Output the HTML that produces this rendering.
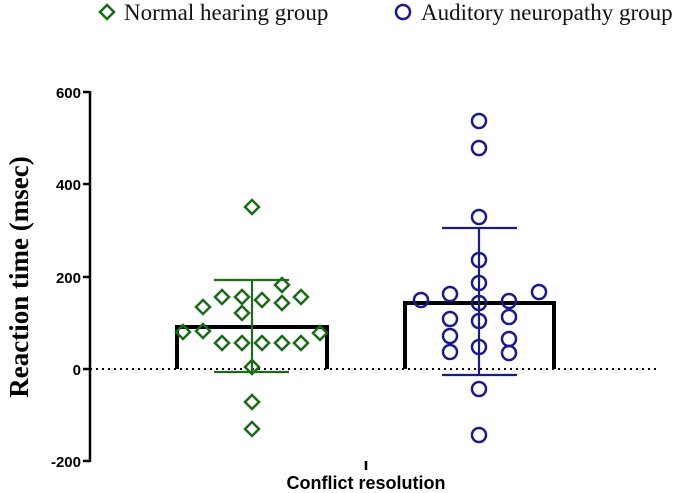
<!DOCTYPE html>
<html><head><meta charset="utf-8"><style>
html,body{margin:0;padding:0;background:#fff;}
svg{display:block}
</style></head><body>
<svg width="685" height="493" viewBox="0 0 685 493" xmlns="http://www.w3.org/2000/svg">
<path d="M107 5 L114 12 L107 19 L100 12 Z" fill="none" stroke="#1a6b1a" stroke-width="2.5"/>
<text x="124" y="20" font-family="Liberation Serif, serif" font-size="23" fill="#111">Normal hearing group</text>
<circle cx="403" cy="12" r="7" fill="none" stroke="#1a1a8c" stroke-width="2.5"/>
<text x="421" y="20" font-family="Liberation Serif, serif" font-size="23" fill="#111">Auditory neuropathy group</text>
<g stroke="#000" stroke-width="2.5">
<line x1="90" y1="91" x2="90" y2="462"/>
<line x1="83" y1="92" x2="90" y2="92"/>
<line x1="83" y1="184" x2="90" y2="184"/>
<line x1="83" y1="277" x2="90" y2="277"/>
<line x1="83" y1="369" x2="90" y2="369"/>
<line x1="83" y1="461" x2="90" y2="461"/>
<line x1="366" y1="461" x2="366" y2="470"/>
</g>
<g font-family="Liberation Sans, sans-serif" font-weight="bold" font-size="15" text-anchor="end" fill="#000">
<text x="81" y="98">600</text>
<text x="81" y="190">400</text>
<text x="81" y="283">200</text>
<text x="81" y="375">0</text>
<text x="81" y="467">-200</text>
</g>
<text transform="translate(22,277) rotate(-90)" text-anchor="middle" dominant-baseline="middle" font-family="Liberation Serif, serif" font-weight="bold" font-size="27">Reaction time (msec)</text>
<text x="366" y="489" text-anchor="middle" font-family="Liberation Sans, sans-serif" font-weight="bold" font-size="18">Conflict resolution</text>
<line x1="90" y1="369" x2="660" y2="369" stroke="#000" stroke-width="2" stroke-dasharray="2,4"/>
<path d="M177 369 V327 H327 V369" fill="none" stroke="#000" stroke-width="4"/>
<path d="M405 369 V303 H554 V369" fill="none" stroke="#000" stroke-width="4"/>
<g stroke="#1a6b1a" stroke-width="2.2" fill="none">
<line x1="252" y1="280" x2="252" y2="372"/>
<line x1="214" y1="280" x2="289" y2="280"/>
<line x1="214" y1="372" x2="289" y2="372"/>
</g>
<g stroke="#1a6b1a" stroke-width="2.5" fill="none">
<path d="M0 -7 L7 0 L0 7 L-7 0 Z" transform="translate(252,207)"/>
<path d="M0 -7 L7 0 L0 7 L-7 0 Z" transform="translate(282,285)"/>
<path d="M0 -7 L7 0 L0 7 L-7 0 Z" transform="translate(222,297)"/>
<path d="M0 -7 L7 0 L0 7 L-7 0 Z" transform="translate(242,297)"/>
<path d="M0 -7 L7 0 L0 7 L-7 0 Z" transform="translate(262,300)"/>
<path d="M0 -7 L7 0 L0 7 L-7 0 Z" transform="translate(282,303)"/>
<path d="M0 -7 L7 0 L0 7 L-7 0 Z" transform="translate(301,297)"/>
<path d="M0 -7 L7 0 L0 7 L-7 0 Z" transform="translate(203,307)"/>
<path d="M0 -7 L7 0 L0 7 L-7 0 Z" transform="translate(242,313)"/>
<path d="M0 -7 L7 0 L0 7 L-7 0 Z" transform="translate(183,332)"/>
<path d="M0 -7 L7 0 L0 7 L-7 0 Z" transform="translate(203,331)"/>
<path d="M0 -7 L7 0 L0 7 L-7 0 Z" transform="translate(320,333)"/>
<path d="M0 -7 L7 0 L0 7 L-7 0 Z" transform="translate(222,343)"/>
<path d="M0 -7 L7 0 L0 7 L-7 0 Z" transform="translate(242,343)"/>
<path d="M0 -7 L7 0 L0 7 L-7 0 Z" transform="translate(262,343)"/>
<path d="M0 -7 L7 0 L0 7 L-7 0 Z" transform="translate(282,343)"/>
<path d="M0 -7 L7 0 L0 7 L-7 0 Z" transform="translate(301,343)"/>
<path d="M0 -7 L7 0 L0 7 L-7 0 Z" transform="translate(252,367)"/>
<path d="M0 -7 L7 0 L0 7 L-7 0 Z" transform="translate(252,402)"/>
<path d="M0 -7 L7 0 L0 7 L-7 0 Z" transform="translate(252,429)"/>
</g>
<g stroke="#1a1a8c" stroke-width="2.2" fill="none">
<line x1="479" y1="228" x2="479" y2="375"/>
<line x1="442" y1="228" x2="517" y2="228"/>
<line x1="442" y1="375" x2="517" y2="375"/>
</g>
<g stroke="#1a1a8c" stroke-width="2.5" fill="none">
<circle cx="479" cy="121" r="7"/>
<circle cx="479" cy="148" r="7"/>
<circle cx="479" cy="217" r="7"/>
<circle cx="479" cy="260" r="7"/>
<circle cx="479" cy="283" r="7"/>
<circle cx="479" cy="303" r="7"/>
<circle cx="479" cy="321" r="7"/>
<circle cx="479" cy="347" r="7"/>
<circle cx="479" cy="389" r="7"/>
<circle cx="479" cy="435" r="7"/>
<circle cx="421" cy="300" r="7"/>
<circle cx="450" cy="294" r="7"/>
<circle cx="450" cy="319" r="7"/>
<circle cx="450" cy="336" r="7"/>
<circle cx="450" cy="352" r="7"/>
<circle cx="509" cy="301" r="7"/>
<circle cx="509" cy="317" r="7"/>
<circle cx="509" cy="339" r="7"/>
<circle cx="509" cy="353" r="7"/>
<circle cx="539" cy="292" r="7"/>
</g>
</svg>
</body></html>
